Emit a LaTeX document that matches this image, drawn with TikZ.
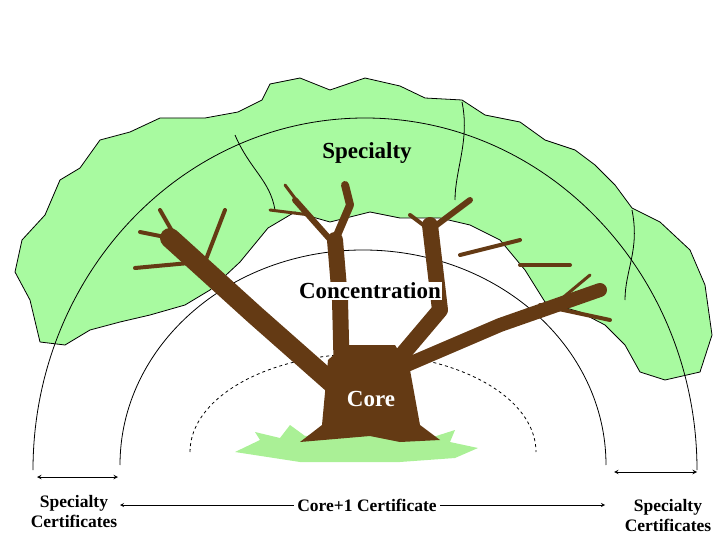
\documentclass[tikz,border=0pt]{standalone}
\usepackage{fontspec}
\setmainfont{Liberation Serif}
\begin{document}
\begin{tikzpicture}[x=1pt,y=-1pt,
  leaf/.style={fill=leafgreen,draw=black,line width=0.8pt,line join=round},
  arcline/.style={draw=black,line width=0.8pt},
  branch/.style={draw=bark,line cap=round,line join=round},
  lbl/.style={font=\bfseries\fontsize{23}{25}\selectfont},
  small/.style={font=\bfseries\fontsize{17.5}{20}\selectfont,align=center},
  dim/.style={<->,>=stealth,line width=1pt}]
\definecolor{leafgreen}{RGB}{168,250,160}
\definecolor{bark}{RGB}{100,58,20}
\definecolor{grass}{RGB}{170,240,150}
\useasboundingbox (0,0) rectangle (720,540);
% foliage
\path[leaf] (40,342) -- (30,300) -- (15,272) -- (22,240) -- (45,215) -- (60,180) -- (80,168) -- (100,140) -- (130,132) -- (160,118) -- (205,118) -- (238,112) -- (262,100) -- (270,84) -- (300,78) -- (330,90) -- (365,78) -- (400,86) -- (425,98) -- (462,100) -- (485,115) -- (520,122) -- (545,140) -- (575,150) -- (595,165) -- (615,185) -- (632,208) -- (660,222) -- (690,250) -- (705,285) -- (712,335) -- (700,372) -- (665,380) -- (640,372) -- (625,345) -- (605,325) -- (580,312) -- (545,302) -- (525,270) -- (500,240) -- (470,225) -- (440,218) -- (400,218) -- (370,212) -- (330,222) -- (295,212) -- (268,228) -- (240,262) -- (210,290) -- (185,305) -- (150,315) -- (120,322) -- (90,330) -- (65,345) -- cycle;
\draw[line width=0.8pt] (235,135) .. controls (250,170) and (270,180) .. (275,210);
\draw[line width=0.8pt] (462,102) .. controls (470,140) and (455,170) .. (455,200);
\draw[line width=0.8pt] (632,210) .. controls (640,250) and (625,270) .. (625,300);
% arcs
\draw[arcline] (33,470) arc[start angle=180,end angle=360,x radius=332,y radius=352];
\draw[arcline] (120,465) arc[start angle=180,end angle=360,x radius=243,y radius=215];
\draw[arcline,dashed] (190,452) arc[start angle=180,end angle=360,x radius=173,y radius=98];
% grass
\path[fill=grass] (235,452) -- (260,440) -- (255,432) -- (280,438) -- (290,425) -- (305,436) -- (350,432) -- (400,436) -- (420,428) -- (430,438) -- (455,430) -- (450,442) -- (478,448) -- (455,458) -- (400,462) -- (300,462) -- cycle;
% trunk
\path[fill=bark] (300,442) -- (322,425) -- (328,360) -- (345,345) -- (395,345) -- (410,370) -- (420,425) -- (440,440) -- (400,442) -- (370,436) -- cycle;
\draw[branch,line width=20pt] (340,390) -- (255,315) -- (170,238);
\draw[branch,line width=16pt] (342,380) -- (340,300) -- (335,240);
\draw[branch,line width=16pt] (385,375) -- (440,310) -- (430,225);
\draw[branch,line width=14pt] (395,370) -- (500,325) -- (600,290);
\draw[branch,line width=8pt] (335,240) -- (350,205) -- (345,185);
\draw[branch,line width=6pt] (335,245) -- (295,200);
\draw[branch,line width=4pt] (170,238) -- (140,232);
\draw[branch,line width=4pt] (200,262) -- (135,268);
\draw[branch,line width=4pt] (205,262) -- (225,210);
\draw[branch,line width=4pt] (180,245) -- (160,210);
\draw[branch,line width=6pt] (430,230) -- (470,200);
\draw[branch,line width=4pt] (430,230) -- (410,215);
\draw[branch,line width=4pt] (460,255) -- (520,240);
\draw[branch,line width=4pt] (520,265) -- (570,265);
\draw[branch,line width=4pt] (540,305) -- (610,320);
\draw[branch,line width=3pt] (560,300) -- (590,275);
\draw[branch,line width=3pt] (300,205) -- (285,185);
\draw[branch,line width=3pt] (310,215) -- (270,210);
% labels
\node[lbl] (spec) at (367,153) {Specialty};
\node[lbl,fill=white,inner sep=1pt] (conc) at (370,291) {Concentration};
\node[lbl,text=white] (core) at (371,399) {Core};
% bottom
\coordinate (l1) at (37,477); \coordinate (l2) at (118,477);
\coordinate (r1) at (614,472); \coordinate (r2) at (697,472);
\draw[dim] (l1) -- (l2);
\draw[dim] (r1) -- (r2);
\node[small] (sl) at (74,512) {Specialty\\Certificates};
\node[small] (sr) at (668,516) {Specialty\\Certificates};
\node[small] (cp) at (367,505) {Core+1 Certificate};
\coordinate (m1) at (120,505); \coordinate (m2) at (605,505);
\draw[->,>=stealth,line width=0.8pt] (cp.west) -- (m1);
\draw[->,>=stealth,line width=0.8pt] (cp.east) -- (m2);
\end{tikzpicture}
\end{document}
